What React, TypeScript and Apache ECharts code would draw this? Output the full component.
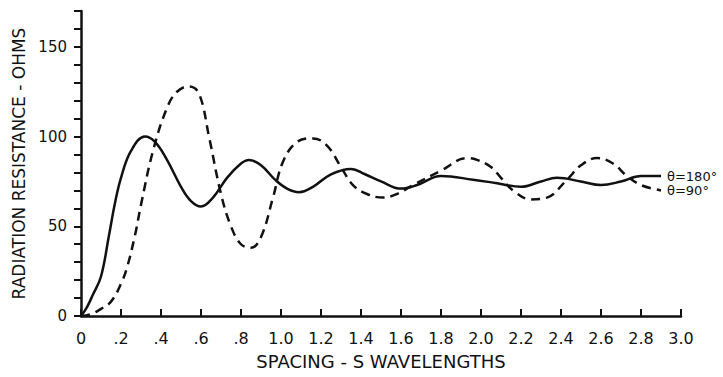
import React, { useEffect, useRef } from "react";
import * as echarts from "echarts";

const xTickLabels = [
  "0", ".2", ".4", ".6", ".8", "1.0", "1.2", "1.4", "1.6", "1.8",
  "2.0", "2.2", "2.4", "2.6", "2.8", "3.0",
];

const theta180Name = "θ=180°";
const theta180: [number, number][] = [
  [0, 0], [0.03, 5], [0.06, 12], [0.1, 22], [0.14, 45], [0.17, 63], [0.2, 77],
  [0.25, 92], [0.32, 100], [0.37, 97], [0.43, 87], [0.5, 72], [0.55, 64],
  [0.6, 61], [0.66, 66], [0.73, 77], [0.8, 85], [0.84, 87], [0.9, 84],
  [0.97, 76], [1.03, 71], [1.09, 69], [1.16, 72], [1.25, 79], [1.35, 82],
  [1.42, 79], [1.5, 75], [1.6, 71], [1.68, 73], [1.8, 78],
  [1.96, 76], [2.08, 74], [2.2, 72], [2.3, 75], [2.38, 77], [2.5, 75],
  [2.6, 73], [2.7, 75], [2.8, 78], [2.9, 78],
];

const theta90Name = "θ=90°";
const theta90: [number, number][] = [
  [0, 0], [0.05, 1], [0.1, 4], [0.15, 8], [0.2, 18], [0.23, 27], [0.27, 45],
  [0.3, 62], [0.36, 92], [0.43, 116], [0.48, 125], [0.54, 128], [0.59, 124],
  [0.64, 100], [0.7, 68], [0.75, 50], [0.8, 40], [0.85, 38], [0.9, 44],
  [0.96, 66], [1.01, 86], [1.08, 97], [1.16, 99], [1.23, 95], [1.3, 83],
  [1.36, 73], [1.43, 68], [1.51, 66], [1.58, 68], [1.66, 73], [1.8, 81],
  [1.93, 88], [1.98, 87], [2.05, 83], [2.1, 77], [2.16, 70], [2.25, 65],
  [2.33, 66], [2.43, 76], [2.5, 84], [2.58, 88], [2.66, 85], [2.73, 78],
  [2.8, 73], [2.9, 70],
];

const yLabelValues = [0, 50, 100, 150];

const FONT = "DejaVu Sans";
const INK = "#111";

export default function App() {
  const ref = useRef<HTMLDivElement>(null);
  useEffect(() => {
    if (!ref.current) return;
    const chart = echarts.init(ref.current, undefined, { renderer: "svg" });
    chart.setOption({
      animation: false,
      backgroundColor: "#fff",
      grid: { left: 81, right: 42, top: 11, bottom: 61, containLabel: false },
      xAxis: {
        type: "value",
        min: 0,
        max: 3,
        interval: 0.2,
        name: "SPACING - S WAVELENGTHS",
        nameLocation: "middle",
        nameGap: 36,
        nameTextStyle: { fontFamily: FONT, fontSize: 18, color: INK },
        axisLine: { show: true, lineStyle: { color: INK, width: 2.5 } },
        axisTick: { show: true, inside: true, length: 7, lineStyle: { color: INK, width: 2 } },
        axisLabel: {
          fontFamily: FONT,
          fontSize: 16,
          color: INK,
          margin: 14,
          formatter: (v: number) => xTickLabels[Math.round(v / 0.2)] ?? "",
        },
        splitLine: { show: false },
      },
      yAxis: {
        type: "value",
        min: 0,
        max: 170,
        interval: 10,
        name: "RADIATION RESISTANCE - OHMS",
        nameLocation: "middle",
        nameGap: 50,
        nameTextStyle: { fontFamily: FONT, fontSize: 17, color: INK },
        axisLine: { show: true, lineStyle: { color: INK, width: 2.5 } },
        axisTick: { show: true, inside: false, length: 7, lineStyle: { color: INK, width: 2 } },
        axisLabel: {
          fontFamily: FONT,
          fontSize: 15,
          color: INK,
          margin: 14,
          formatter: (v: number) => (yLabelValues.includes(v) ? String(v) : ""),
        },
        splitLine: { show: false },
      },
      series: [
        {
          name: theta180Name,
          type: "line",
          data: theta180,
          smooth: 0.4,
          showSymbol: false,
          lineStyle: { color: INK, width: 2.5, type: "solid" },
          endLabel: {
            show: true,
            formatter: theta180Name,
            fontFamily: FONT,
            fontSize: 13,
            color: INK,
            distance: 6,
          },
        },
        {
          name: theta90Name,
          type: "line",
          data: theta90,
          smooth: 0.4,
          showSymbol: false,
          lineStyle: { color: INK, width: 2.5, type: [9, 6] },
          endLabel: {
            show: true,
            formatter: theta90Name,
            fontFamily: FONT,
            fontSize: 13,
            color: INK,
            distance: 6,
          },
        },
      ],
    });
    return () => chart.dispose();
  }, []);
  return (
    <div
      ref={ref}
      style={{ position: "fixed", left: 0, top: 0, width: 723, height: 377 }}
    />
  );
}
